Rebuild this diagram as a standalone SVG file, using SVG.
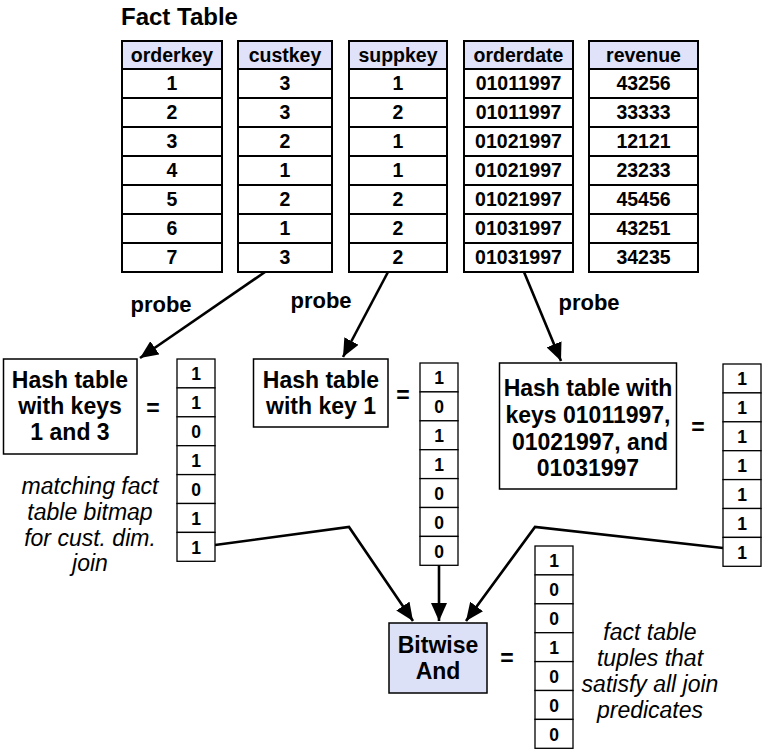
<svg xmlns="http://www.w3.org/2000/svg" width="768" height="754" viewBox="0 0 768 754">
<style>
text{font-family:"Liberation Sans",Arial,sans-serif;fill:#000}
.t{font-size:19.5px;font-weight:bold;text-anchor:middle}
.b{font-size:17.5px;font-weight:bold;text-anchor:middle}
.h{font-size:23px;font-weight:bold;text-anchor:middle}
.p{font-size:22px;font-weight:bold;text-anchor:middle}
.i{font-size:23px;font-style:italic;text-anchor:middle}
.hd{fill:#dfe2f9;stroke:#000;stroke-width:2}
.c{fill:#fff;stroke:#000;stroke-width:2}
.bx{fill:#fff;stroke:#000;stroke-width:1.5}
.bc{fill:#fff;stroke:#000;stroke-width:1.3}
.ln{fill:none;stroke:#000;stroke-width:2.6}
</style>
<defs>
<marker id="ah" markerUnits="userSpaceOnUse" markerWidth="20" markerHeight="16" refX="18" refY="8" orient="auto">
<path d="M0,0 L18,8 L0,16 z" fill="#000"/>
</marker>
</defs>
<rect width="768" height="754" fill="#fff"/>
<text x="121" y="25" style="font-size:24px;font-weight:bold">Fact Table</text>

<g id="col-orderkey">
<rect class="hd" x="122" y="41" width="100" height="28"/>
<rect class="c" x="122" y="69" width="100" height="29"/><rect class="c" x="122" y="98" width="100" height="29"/><rect class="c" x="122" y="127" width="100" height="29"/><rect class="c" x="122" y="156" width="100" height="29"/><rect class="c" x="122" y="185" width="100" height="29"/><rect class="c" x="122" y="214" width="100" height="29"/><rect class="c" x="122" y="243" width="100" height="29"/>
<text class="t" x="172" y="62">orderkey</text>
<text class="t" x="172" y="90">1</text><text class="t" x="172" y="119">2</text><text class="t" x="172" y="148">3</text><text class="t" x="172" y="177">4</text><text class="t" x="172" y="206">5</text><text class="t" x="172" y="235">6</text><text class="t" x="172" y="264">7</text>
</g>
<g id="col-custkey">
<rect class="hd" x="238" y="41" width="94" height="28"/>
<rect class="c" x="238" y="69" width="94" height="29"/><rect class="c" x="238" y="98" width="94" height="29"/><rect class="c" x="238" y="127" width="94" height="29"/><rect class="c" x="238" y="156" width="94" height="29"/><rect class="c" x="238" y="185" width="94" height="29"/><rect class="c" x="238" y="214" width="94" height="29"/><rect class="c" x="238" y="243" width="94" height="29"/>
<text class="t" x="285" y="62">custkey</text>
<text class="t" x="285" y="90">3</text><text class="t" x="285" y="119">3</text><text class="t" x="285" y="148">2</text><text class="t" x="285" y="177">1</text><text class="t" x="285" y="206">2</text><text class="t" x="285" y="235">1</text><text class="t" x="285" y="264">3</text>
</g>
<g id="col-suppkey">
<rect class="hd" x="349" y="41" width="98" height="28"/>
<rect class="c" x="349" y="69" width="98" height="29"/><rect class="c" x="349" y="98" width="98" height="29"/><rect class="c" x="349" y="127" width="98" height="29"/><rect class="c" x="349" y="156" width="98" height="29"/><rect class="c" x="349" y="185" width="98" height="29"/><rect class="c" x="349" y="214" width="98" height="29"/><rect class="c" x="349" y="243" width="98" height="29"/>
<text class="t" x="398" y="62">suppkey</text>
<text class="t" x="398" y="90">1</text><text class="t" x="398" y="119">2</text><text class="t" x="398" y="148">1</text><text class="t" x="398" y="177">1</text><text class="t" x="398" y="206">2</text><text class="t" x="398" y="235">2</text><text class="t" x="398" y="264">2</text>
</g>
<g id="col-orderdate">
<rect class="hd" x="464" y="41" width="109" height="28"/>
<rect class="c" x="464" y="69" width="109" height="29"/><rect class="c" x="464" y="98" width="109" height="29"/><rect class="c" x="464" y="127" width="109" height="29"/><rect class="c" x="464" y="156" width="109" height="29"/><rect class="c" x="464" y="185" width="109" height="29"/><rect class="c" x="464" y="214" width="109" height="29"/><rect class="c" x="464" y="243" width="109" height="29"/>
<text class="t" x="518.5" y="62">orderdate</text>
<text class="t" x="518.5" y="90">01011997</text><text class="t" x="518.5" y="119">01011997</text><text class="t" x="518.5" y="148">01021997</text><text class="t" x="518.5" y="177">01021997</text><text class="t" x="518.5" y="206">01021997</text><text class="t" x="518.5" y="235">01031997</text><text class="t" x="518.5" y="264">01031997</text>
</g>
<g id="col-revenue">
<rect class="hd" x="589" y="41" width="109" height="28"/>
<rect class="c" x="589" y="69" width="109" height="29"/><rect class="c" x="589" y="98" width="109" height="29"/><rect class="c" x="589" y="127" width="109" height="29"/><rect class="c" x="589" y="156" width="109" height="29"/><rect class="c" x="589" y="185" width="109" height="29"/><rect class="c" x="589" y="214" width="109" height="29"/><rect class="c" x="589" y="243" width="109" height="29"/>
<text class="t" x="643.5" y="62">revenue</text>
<text class="t" x="643.5" y="90">43256</text><text class="t" x="643.5" y="119">33333</text><text class="t" x="643.5" y="148">12121</text><text class="t" x="643.5" y="177">23233</text><text class="t" x="643.5" y="206">45456</text><text class="t" x="643.5" y="235">43251</text><text class="t" x="643.5" y="264">34235</text>
</g>

<g id="connectors">
<line class="ln" x1="265" y1="272" x2="140" y2="358" marker-end="url(#ah)"/>
<line class="ln" x1="388" y1="272" x2="343" y2="357" marker-end="url(#ah)"/>
<line class="ln" x1="524" y1="272" x2="561" y2="361" marker-end="url(#ah)"/>
<polyline class="ln" points="215,545 349,527 413,621" marker-end="url(#ah)"/>
<line class="ln" x1="439" y1="565" x2="439" y2="621" marker-end="url(#ah)"/>
<polyline class="ln" points="723,548 535,527 466,621" marker-end="url(#ah)"/>
<text class="p" x="161" y="312">probe</text>
<text class="p" x="321" y="308">probe</text>
<text class="p" x="589" y="310">probe</text>
</g>

<g id="hash1">
<rect class="bx" x="3.5" y="359" width="133.5" height="95"/>
<text class="h" x="70" y="388">Hash table</text>
<text class="h" x="70" y="414">with keys</text>
<text class="h" x="70" y="440">1 and 3</text>
<text class="h" x="153" y="416">=</text>
</g>
<g id="bitmap1">
<rect class="bc" x="177" y="359" width="38" height="28.9"/><rect class="bc" x="177" y="387.9" width="38" height="28.9"/><rect class="bc" x="177" y="416.8" width="38" height="28.9"/><rect class="bc" x="177" y="445.7" width="38" height="28.9"/><rect class="bc" x="177" y="474.6" width="38" height="28.9"/><rect class="bc" x="177" y="503.5" width="38" height="28.9"/><rect class="bc" x="177" y="532.4" width="38" height="28.9"/>
<text class="b" x="196" y="380">1</text><text class="b" x="196" y="409">1</text><text class="b" x="196" y="438">0</text><text class="b" x="196" y="467">1</text><text class="b" x="196" y="496">0</text><text class="b" x="196" y="525">1</text><text class="b" x="196" y="554">1</text>
</g>
<g id="note1">
<text class="i" x="90" y="494">matching fact</text>
<text class="i" x="90" y="520">table bitmap</text>
<text class="i" x="90" y="546">for cust. dim.</text>
<text class="i" x="90" y="571">join</text>
</g>

<g id="hash2">
<rect class="bx" x="253.5" y="359" width="134.5" height="68"/>
<text class="h" x="321" y="388">Hash table</text>
<text class="h" x="321" y="414">with key 1</text>
<text class="h" x="403" y="403">=</text>
</g>
<g id="bitmap2">
<rect class="bc" x="420" y="363" width="38" height="28.9"/><rect class="bc" x="420" y="391.9" width="38" height="28.9"/><rect class="bc" x="420" y="420.8" width="38" height="28.9"/><rect class="bc" x="420" y="449.7" width="38" height="28.9"/><rect class="bc" x="420" y="478.6" width="38" height="28.9"/><rect class="bc" x="420" y="507.5" width="38" height="28.9"/><rect class="bc" x="420" y="536.4" width="38" height="28.9"/>
<text class="b" x="439" y="384">1</text><text class="b" x="439" y="413">0</text><text class="b" x="439" y="442">1</text><text class="b" x="439" y="471">1</text><text class="b" x="439" y="500">0</text><text class="b" x="439" y="529">0</text><text class="b" x="439" y="558">0</text>
</g>

<g id="hash3">
<rect class="bx" x="499.5" y="363" width="177" height="126"/>
<text class="h" x="588" y="396">Hash table with</text>
<text class="h" x="588" y="423">keys 01011997,</text>
<text class="h" x="590" y="450"> 01021997, and</text>
<text class="h" x="588" y="476">01031997</text>
<text class="h" x="698" y="435">=</text>
</g>
<g id="bitmap3">
<rect class="bc" x="723" y="364" width="38" height="28.9"/><rect class="bc" x="723" y="392.9" width="38" height="28.9"/><rect class="bc" x="723" y="421.8" width="38" height="28.9"/><rect class="bc" x="723" y="450.7" width="38" height="28.9"/><rect class="bc" x="723" y="479.6" width="38" height="28.9"/><rect class="bc" x="723" y="508.5" width="38" height="28.9"/><rect class="bc" x="723" y="537.4" width="38" height="28.9"/>
<text class="b" x="742" y="385">1</text><text class="b" x="742" y="414">1</text><text class="b" x="742" y="443">1</text><text class="b" x="742" y="472">1</text><text class="b" x="742" y="501">1</text><text class="b" x="742" y="530">1</text><text class="b" x="742" y="559">1</text>
</g>

<g id="bitwise-and">
<rect x="389" y="623" width="98" height="70" fill="#dde1f8" stroke="#000" stroke-width="1.5"/>
<text class="h" x="438" y="653">Bitwise</text>
<text class="h" x="438" y="679">And</text>
<text class="h" x="507" y="666">=</text>
</g>
<g id="result-bitmap">
<rect class="bc" x="535" y="546" width="38" height="28.9"/><rect class="bc" x="535" y="574.9" width="38" height="28.9"/><rect class="bc" x="535" y="603.8" width="38" height="28.9"/><rect class="bc" x="535" y="632.7" width="38" height="28.9"/><rect class="bc" x="535" y="661.6" width="38" height="28.9"/><rect class="bc" x="535" y="690.5" width="38" height="28.9"/><rect class="bc" x="535" y="719.4" width="38" height="28.9"/>
<text class="b" x="554" y="567">1</text><text class="b" x="554" y="596">0</text><text class="b" x="554" y="625">0</text><text class="b" x="554" y="654">1</text><text class="b" x="554" y="683">0</text><text class="b" x="554" y="712">0</text><text class="b" x="554" y="741">0</text>
</g>
<g id="note2">
<text class="i" x="650" y="640">fact table</text>
<text class="i" x="650" y="666">tuples that</text>
<text class="i" x="650" y="692">satisfy all join</text>
<text class="i" x="650" y="718">predicates</text>
</g>
</svg>
